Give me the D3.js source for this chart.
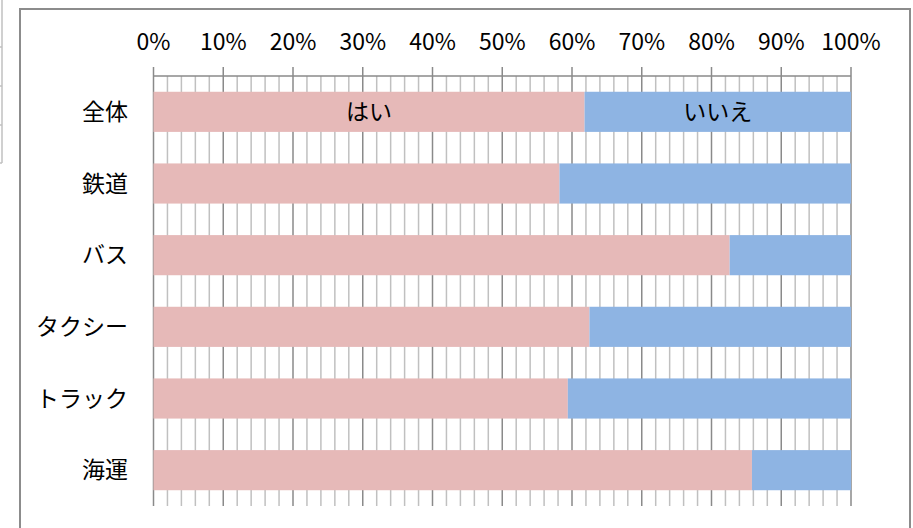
<!DOCTYPE html>
<html>
<head>
<meta charset="utf-8">
<script src="https://cdn.jsdelivr.net/npm/d3@7"></script>
<style>
  body { margin: 0; background: #fff; }
  text { font-family: "Noto Sans CJK JP", "Noto Sans", sans-serif; fill: #000; }
</style>
</head>
<body>
<div class="js-chart"></div>
<script>
'use strict';

// categories, top to bottom
var categories = ['全体', '鉄道', 'バス', 'タクシー', 'トラック', '海運'];
// share answering "はい" / "いいえ" (%)
var yesValues = [61.8, 58.2, 82.6, 62.5, 59.4, 85.8];
var noValues = [38.2, 41.8, 17.4, 37.5, 40.6, 14.2];
var seriesNames = ['はい', 'いいえ'];
var tickValues = [0, 10, 20, 30, 40, 50, 60, 70, 80, 90, 100];

var dim = { w: 913, h: 528 };
var plot = { left: 153.5, right: 851, top: 76, bottom: 506 };
var colors = ['#e6b9b8', '#8eb4e3'];

var svg = d3.select('.js-chart').append('svg')
    .attr('width', dim.w)
    .attr('height', dim.h);

//fragment of a neighbouring table on the left edge
var frag = svg.append('g');
frag.append('line')
    .attr('x1', 2).attr('x2', 2).attr('y1', 0).attr('y2', 163)
    .style('stroke', '#c0c0c0').style('stroke-width', 1.5);
[47, 86, 125, 163].forEach(function (y) {
    frag.append('line')
        .attr('x1', 0).attr('x2', 2).attr('y1', y).attr('y2', y)
        .style('stroke', '#c0c0c0').style('stroke-width', 1.5);
});

//chart frame
svg.append('rect')
    .attr('x', 20).attr('y', 9)
    .attr('width', 890).attr('height', 540)
    .style('fill', 'none')
    .style('stroke', '#8c8c8c')
    .style('stroke-width', 2);

var x = d3.scaleLinear().domain([0, 100]).range([plot.left, plot.right]);
var y = d3.scaleBand().domain(categories)
    .range([plot.top, plot.bottom])
    .paddingInner(0.44)
    .paddingOuter(0.22);

//minor gridlines every 2%
svg.append('g')
    .selectAll('line')
    .data(d3.range(2, 100, 2).filter(function (v) { return v % 10 !== 0; }))
    .enter().append('line')
    .attr('x1', function (d) { return x(d); })
    .attr('x2', function (d) { return x(d); })
    .attr('y1', plot.top)
    .attr('y2', plot.bottom)
    .style('stroke', '#c0c0c0')
    .style('stroke-width', 1.5);

//major gridlines, extending above the axis as tick marks
svg.append('g')
    .selectAll('line')
    .data(tickValues)
    .enter().append('line')
    .attr('x1', function (d) { return x(d); })
    .attr('x2', function (d) { return x(d); })
    .attr('y1', plot.top - 9)
    .attr('y2', plot.bottom)
    .style('stroke', '#8a8a8a')
    .style('stroke-width', 1.5);

//top axis line
svg.append('line')
    .attr('x1', plot.left).attr('x2', plot.right)
    .attr('y1', plot.top).attr('y2', plot.top)
    .style('stroke', '#8a8a8a')
    .style('stroke-width', 1.5);

//tick labels
svg.append('g')
    .selectAll('text')
    .data(tickValues)
    .enter().append('text')
    .attr('x', function (d) { return x(d); })
    .attr('y', 50)
    .attr('text-anchor', 'middle')
    .style('font-size', '23px')
    .text(function (d) { return d + '%'; });

//stacked bars
var rows = categories.map(function (c, i) {
    return { cat: c, parts: [[0, yesValues[i]], [yesValues[i], yesValues[i] + noValues[i]]] };
});

var rowG = svg.append('g')
    .selectAll('g')
    .data(rows)
    .enter().append('g');

rowG.selectAll('rect')
    .data(function (d) { return d.parts.map(function (p, k) { return { p: p, k: k, cat: d.cat }; }); })
    .enter().append('rect')
    .attr('x', function (d) { return x(d.p[0]); })
    .attr('width', function (d) { return x(d.p[1]) - x(d.p[0]); })
    .attr('y', function (d) { return y(d.cat); })
    .attr('height', y.bandwidth())
    .style('fill', function (d) { return colors[d.k]; });

//series labels on the first bar
var first = rows[0];
svg.append('g')
    .selectAll('text')
    .data(first.parts)
    .enter().append('text')
    .attr('x', function (d) { return (x(d[0]) + x(d[1])) / 2; })
    .attr('y', y(first.cat) + y.bandwidth() / 2)
    .attr('dy', '0.35em')
    .attr('text-anchor', 'middle')
    .style('font-size', '23px')
    .text(function (d, i) { return seriesNames[i]; });

//category labels
svg.append('g')
    .selectAll('text')
    .data(categories)
    .enter().append('text')
    .attr('x', 128)
    .attr('y', function (d) { return y(d) + y.bandwidth() / 2; })
    .attr('dy', '0.35em')
    .attr('text-anchor', 'end')
    .style('font-size', '23px')
    .text(function (d) { return d; });
</script>
</body>
</html>
